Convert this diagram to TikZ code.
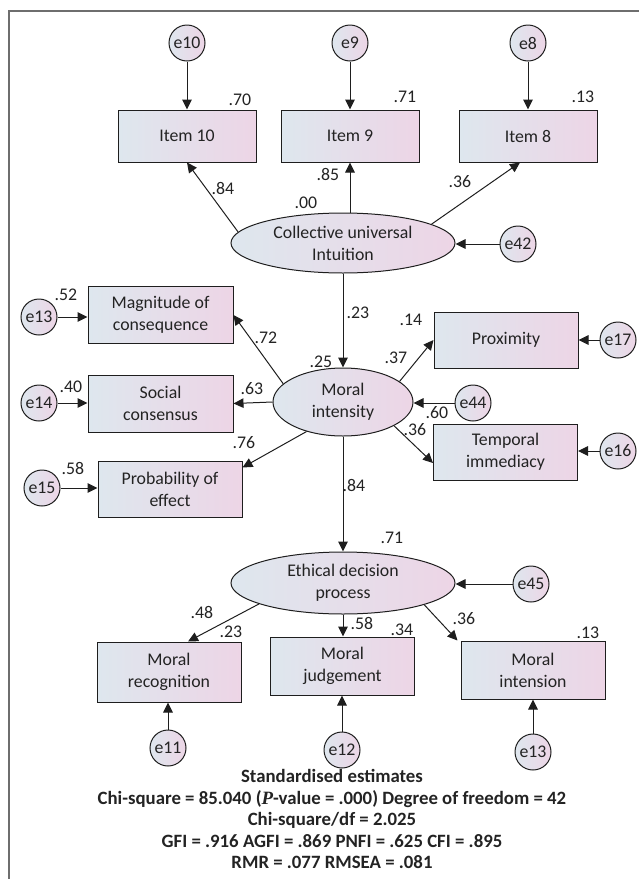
\documentclass[tikz,border=0pt]{standalone}
\usepackage{fontspec}
\setmainfont{Carlito}
\newfontfamily\pfont{Liberation Serif}
\usetikzlibrary{shapes.geometric,arrows.meta}
\definecolor{shadel}{RGB}{222,231,238}
\definecolor{shader}{RGB}{237,213,230}
\definecolor{framegray}{RGB}{110,110,110}
\definecolor{linegray}{RGB}{30,30,30}
\definecolor{txtgray}{RGB}{35,35,35}

\tikzset{
  obsbox/.style={draw=linegray,line width=1pt,rectangle,left color=shadel,right color=shader,
    minimum width=144pt,minimum height=56pt,align=center,inner sep=0pt},
  itembox/.style={obsbox,minimum width=138pt,minimum height=52pt},
  latent/.style={draw=linegray,line width=1pt,ellipse,left color=shadel,right color=shader,
    align=center,inner sep=0pt},
  errc/.style={draw=linegray,line width=1pt,circle,left color=shadel,right color=shader,
    minimum size=36pt,inner sep=0pt},
  arrowline/.style={draw=linegray,line width=1pt,-{Triangle[length=10pt,width=9.5pt]}},
  est/.style={inner sep=0pt}
}

\begin{document}
\begin{tikzpicture}[x=1pt,y=-1pt,font=\fontsize{17.8}{22}\selectfont,text=txtgray]
\useasboundingbox (0,0) rectangle (639,879);
\draw[framegray,line width=1.5pt] (9,879) -- (9,11) -- (639,11);

% latent variables
\node[latent,minimum width=224pt,minimum height=60pt] (cui) at (343,243) {Collective universal\\Intuition};
\node[latent,minimum width=140pt,minimum height=68pt] (mi) at (343,402) {Moral\\intensity};
\node[latent,minimum width=224pt,minimum height=62pt] (edp) at (343,583) {Ethical decision\\process};

% observed variables
\node[itembox] (it10) at (187,136) {Item 10};
\node[itembox] (it9) at (350,136) {Item 9};
\node[itembox] (it8) at (528,136) {Item 8};

\node[obsbox,minimum width=145pt,minimum height=57pt] (mag) at (160.5,315) {Magnitude of\\consequence};
\node[obsbox,minimum width=145pt,minimum height=57pt] (soc) at (160.5,403.5) {Social\\consensus};
\node[obsbox] (prob) at (170,489) {Probability of\\effect};
\node[obsbox] (prox) at (506,340) {Proximity};
\node[obsbox] (temp) at (505.5,452) {Temporal\\immediacy};

\node[obsbox,minimum height=60pt] (mrec) at (169,672) {Moral\\recognition};
\node[obsbox,minimum height=58pt] (mjud) at (342.5,666) {Moral\\judgement};
\node[obsbox,minimum height=58pt] (mint) at (533,670) {Moral\\intension};

% error terms
\node[errc] (e10) at (187,43) {e10};
\node[errc] (e9) at (350,43) {e9};
\node[errc] (e8) at (528,43) {e8};
\node[errc] (e42) at (518,244) {e42};
\node[errc] (e13) at (39,317) {e13};
\node[errc] (e14) at (39,403) {e14};
\node[errc] (e15) at (42,488) {e15};
\node[errc] (e17) at (618,340) {e17};
\node[errc] (e44) at (473,403) {e44};
\node[errc] (e16) at (618,451) {e16};
\node[errc] (e45) at (531,584) {e45};
\node[errc] (e11) at (168,748) {e11};
\node[errc] (e12) at (342,750) {e12};
\node[errc] (e13b) at (533,752) {e13};

% paths
\draw[arrowline] (e10) -- (it10);
\draw[arrowline] (e9) -- (it9);
\draw[arrowline] (e8) -- (it8);
\draw[arrowline] (cui.174) -- (it10.south);
\draw[arrowline] (it9 |- cui.north) -- (it9.south);
\draw[arrowline] (cui.12) -- ([xshift=-8pt]it8.south);
\draw[arrowline] (e42) -- (e42 -| cui.east);
\draw[arrowline] (cui.south) -- (mi.north);

\draw[arrowline] (mi.163) -- (mag.east);
\draw[arrowline] (mi.west) -- (soc.east);
\draw[arrowline] (mi.219) -- ([yshift=-7pt]prob.north east);
\draw[arrowline] (mi.20) -- (prox.west);
\draw[arrowline] (mi.335) -- ([yshift=-11pt]temp.west);
\draw[arrowline] (e44) -- (e44 -| mi.east);
\draw[arrowline] (e13) -- (e13 -| mag.west);
\draw[arrowline] (e14) -- (e14 -| soc.west);
\draw[arrowline] (e15) -- (e15 -| prob.west);
\draw[arrowline] (e17) -- (e17 -| prox.east);
\draw[arrowline] (e16) -- (e16 -| temp.east);
\draw[arrowline] (mi.south) -- (edp.north);

\draw[arrowline] (e45) -- (e45 -| edp.east);
\draw[arrowline] (edp.194) -- ([xshift=19pt]mrec.north);
\draw[arrowline] (edp.south) -- (edp.south |- mjud.north);
\draw[arrowline] (edp.345) -- ([xshift=-3pt]mint.north west);
\draw[arrowline] (e11) -- (e11 |- mrec.south);
\draw[arrowline] (e12) -- (e12 |- mjud.south);
\draw[arrowline] (e13b) -- (e13b |- mint.south);

% estimates
\node[est] (r10) at (240,100) {.70};
\node[est] (r9) at (405,97) {.71};
\node[est] (r8) at (583,97) {.13};
\node[est] (w10) at (223,188) {.84};
\node[est] (w9) at (328,174) {.85};
\node[est] (w8) at (460,182) {.36};
\node[est] (rcui) at (306,203) {.00};
\node[est] (wmi) at (358,313) {.23};
\node[est] (rmi) at (321,362) {.25};
\node[est] (rmag) at (66,295) {.52};
\node[est] (rsoc) at (71,387) {.40};
\node[est] (wmag) at (266,338) {.72};
\node[est] (wsoc) at (252,389) {.63};
\node[est] (wprob) at (244,443) {.76};
\node[est] (rprob) at (73,468) {.58};
\node[est] (rprox) at (411,320) {.14};
\node[est] (wprox) at (396,358) {.37};
\node[est] (rtemp) at (437,413) {.60};
\node[est] (wtemp) at (415,430) {.36};
\node[est] (wedp) at (354,485) {.84};
\node[est] (redp) at (392,538) {.71};
\node[est] (wrec) at (202,612) {.48};
\node[est] (rrec) at (231,632) {.23};
\node[est] (wjud) at (362,623) {.58};
\node[est] (rjud) at (402,630) {.34};
\node[est] (wint) at (464,619) {.36};
\node[est] (rint) at (588,633) {.13};

% fit statistics
\node[font=\fontsize{18.8}{21.5}\selectfont\bfseries,align=center,inner sep=0pt] (fit) at (332,819)
  {Standardised estimates\\
   Chi-square = 85.040 ({\pfont\itshape P}-value = .000) Degree of freedom = 42\\
   Chi-square/df = 2.025\\
   GFI = .916 AGFI = .869 PNFI = .625 CFI = .895\\
   RMR = .077 RMSEA = .081};
\end{tikzpicture}
\end{document}
